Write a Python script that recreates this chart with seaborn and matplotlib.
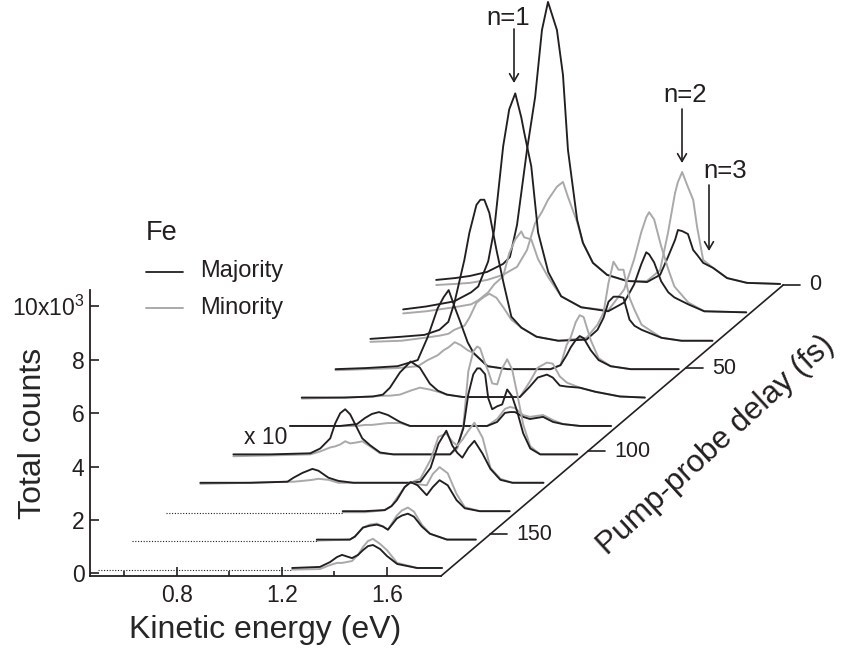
import matplotlib
matplotlib.use("Agg")
import matplotlib.pyplot as plt
from matplotlib.lines import Line2D
import numpy as np
import seaborn as sns

delays = [0, 17, 34, 51, 68, 85, 102, 119, 136, 153, 170]

energy_0 = [.49, .562, .619, .684, .745, .771, .798, .836, .867, .893, .916, .95, .973, .992, 1.027, 1.049, 1.087, 1.141, 1.217, 1.293, 1.343, 1.373, 1.40, 1.411, 1.427, 1.449, 1.469, 1.484, 1.507, 1.545, 1.598, 1.674, 1.80]
majority_0 = [.15, .22, .30, .45, .75, 1.01, 2.21, 5.02, 7.0, 9.51, 10.56, 9.51, 7.83, 5.02, 2.40, 1.54, .79, .34, .11, .07, .34, 1.01, 1.65, 2.02, 1.98, 1.87, 1.27, 1.09, .79, .60, .22, .04, 0]
minority_0 = [-.04, 0, .04, .15, .34, .49, .64, 1.27, 2.28, 2.70, 3.15, 3.64, 3.82, 3.26, 2.32, 1.54, .79, .34, .11, .11, .52, 1.91, 3.41, 3.82, 4.19, 3.63, 3.15, 2.13, .90, .60, .22, .04, 0]

energy_17 = [.493, .581, .687, .752, .779, .817, .84, .874, .897, .92, .943, .954, .981, 1.007, 1.046, 1.095, 1.171, 1.274, 1.335, 1.373, 1.40, 1.419, 1.43, 1.449, 1.476, 1.503, 1.526, 1.579, 1.64, 1.80]
majority_17 = [.11, .22, .41, .75, .97, 1.91, 3.11, 6.22, 7.60, 8.20, 7.30, 6.74, 5.47, 2.99, 1.50, .60, .19, .04, .37, 1.05, 1.80, 2.25, 2.17, 1.87, 1.16, .75, .56, .30, .04, 0]
minority_17 = [-.04, .04, .19, .30, .45, .75, 1.05, 1.35, 2.21, 2.73, 3.03, 2.81, 2.73, 1.99, 1.31, .60, .19, .07, .86, 1.99, 3.0, 3.56, 3.75, 3.48, 2.47, 1.61, .97, .37, .04, 0]

energy_34 = [.497, .615, .703, .76, .794, .817, .855, .874, .901, .916, .931, .95, .977, 1.004, 1.034, 1.072, 1.13, 1.213, 1.32, 1.362, 1.385, 1.404, 1.423, 1.442, 1.461, 1.484, 1.503, 1.53, 1.606, 1.682, 1.80]
majority_34 = [.07, .15, .22, .41, .71, 1.42, 3.03, 4.04, 5.09, 5.28, 5.28, 4.79, 3.41, 2.17, .90, .49, .15, 0, .04, .41, .86, 1.46, 1.65, 1.65, 1.61, .79, .56, .41, .11, 0, 0]
minority_34 = [-.04, 0, .11, .19, .26, .41, .56, .86, 1.42, 1.54, 1.65, 1.76, 1.61, 1.24, .79, .49, .15, 0, .11, .60, 1.05, 2.17, 2.96, 2.66, 2.66, 1.61, 1.16, .60, .11, 0, 0]

energy_51 = [.493, .608, .729, .806, .844, .882, .905, .924, .947, .97, .996, 1.019, 1.072, 1.149, 1.312, 1.35, 1.373, 1.389, 1.408, 1.423, 1.438, 1.465, 1.495, 1.541, 1.617, 1.80]
majority_51 = [0, .04, .11, .34, 1.20, 2.28, 2.70, 2.96, 2.32, 1.72, 1.01, .60, .11, 0, 0, .15, .52, .82, 1.09, 1.24, 1.16, .71, .34, .11, 0, 0]
minority_51 = [-.04, 0, .04, .11, .34, .52, .71, .82, 1.01, .90, .71, .60, .11, 0, 0, .15, .90, 1.20, 1.76, 2.02, 1.95, 1.09, .41, .11, 0, 0]

energy_68 = [.493, .657, .764, .802, .829, .867, .908, .943, .981, 1.011, 1.046, 1.107, 1.324, 1.362, 1.392, 1.427, 1.449, 1.476, 1.503, 1.552, 1.61, 1.705, 1.80]
majority_68 = [0, 0, .04, .11, .37, .94, 1.35, 1.12, .52, .26, .11, .02, .02, .41, .75, .86, .75, .45, .41, .37, .22, .04, 0]
minority_68 = [-.04, 0, .04, .07, .07, .11, .26, .37, .30, .22, .11, .02, .02, .60, 1.12, 1.31, 1.27, .79, .56, .37, .22, .04, 0]

energy_85 = [.577, .768, .832, .863, .889, .916, .95, .996, 1.034, 1.328, 1.366, 1.396, 1.415, 1.434, 1.465, 1.491, 1.541, 1.579, 1.617, 1.682, 1.80]
majority_85 = [0, 0, .07, .30, .45, .52, .41, .15, 0, 0, .15, .49, .52, .52, .34, .26, .34, .15, .07, 0, 0]
minority_85 = [0, 0, 0, .04, .04, .07, .11, .11, 0, 0, .26, .64, .71, .67, .41, .34, .41, .22, .07, 0, 0]

energy_102 = [.49, .63, .783, .821, .859, .878, .897, .916, .935, .962, .981, 1.011, 1.049, 1.099, 1.316, 1.343, 1.366, 1.385, 1.404, 1.419, 1.43, 1.449, 1.461, 1.476, 1.495, 1.514, 1.533, 1.552, 1.571, 1.594, 1.621, 1.659, 1.80]
majority_102 = [0, 0, .04, .22, .60, 1.16, 1.54, 1.69, 1.50, .97, .60, .34, .07, 0, 0, .30, .97, 2.25, 3.0, 3.22, 3.22, 3.0, 2.10, 1.69, 1.80, 1.87, 2.43, 2.17, 1.61, .79, .22, 0, 0]
minority_102 = [-.07, -.04, 0, .11, .26, .30, .37, .49, .41, .45, .49, .30, .04, 0, 0, .22, 1.05, 3.11, 3.86, 4.04, 3.97, 3.41, 3.11, 2.66, 2.62, 3.22, 3.56, 3.18, 2.28, 1.12, .30, 0, 0]

energy_119 = [.493, .684, .825, .848, .882, .92, .943, .981, 1.019, 1.076, 1.293, 1.331, 1.37, 1.40, 1.43, 1.453, 1.472, 1.491, 1.514, 1.537, 1.568, 1.598, 1.636, 1.682, 1.80]
majority_119 = [0, 0, .04, .19, .37, .52, .45, .19, .07, 0, 0, .04, .56, 1.46, 1.95, 1.39, 1.12, .94, 1.31, 1.57, 1.09, .52, .11, 0, 0]
minority_119 = [-.04, 0, .04, .04, .07, .11, .15, .11, 0, 0, 0, .15, .86, 1.72, 1.84, 1.54, 1.39, 1.61, 1.95, 2.25, 1.69, .56, .15, 0, 0]

energy_136 = [1.164, 1.248, 1.324, 1.35, 1.37, 1.40, 1.423, 1.449, 1.484, 1.507, 1.533, 1.564, 1.598, 1.629, 1.686, 1.80]
majority_136 = [0, 0, .04, .19, .41, .90, 1.09, .97, .60, .90, 1.16, .97, .41, .11, 0, 0]
minority_136 = [-.04, -.04, .04, .19, .49, .90, 1.09, 1.01, .97, 1.39, 1.65, 1.42, .64, .15, 0, 0]

energy_153 = [1.194, 1.32, 1.339, 1.37, 1.396, 1.423, 1.446, 1.465, 1.499, 1.518, 1.541, 1.564, 1.594, 1.625, 1.69, 1.80]
majority_153 = [0, 0, .11, .45, .52, .56, .49, .37, .79, .90, .97, .86, .49, .22, 0, 0]
minority_153 = [-.04, 0, .11, .45, .56, .60, .49, .37, .90, 1.09, 1.20, 1.05, .56, .22, 0, 0]

energy_170 = [1.229, 1.335, 1.373, 1.40, 1.419, 1.457, 1.48, 1.499, 1.518, 1.537, 1.564, 1.59, 1.629, 1.705, 1.80]
majority_170 = [0, .04, .22, .41, .49, .37, .49, .67, .82, .86, .71, .45, .15, 0, 0]
minority_170 = [-.06, -.04, .11, .19, .19, .26, .49, .79, 1.01, 1.09, .90, .67, .19, 0, 0]

energies = [energy_0, energy_17, energy_34, energy_51, energy_68, energy_85, energy_102, energy_119, energy_136, energy_153, energy_170]
majorities = [majority_0, majority_17, majority_34, majority_51, majority_68, majority_85, majority_102, majority_119, majority_136, majority_153, majority_170]
minorities = [minority_0, minority_17, minority_34, minority_51, minority_68, minority_85, minority_102, minority_119, minority_136, minority_153, minority_170]

# the three lowest scans only have a dotted baseline at low energy
dotted_delays = [136, 153, 170]
dotted_energy = [.49, 1.2]
dotted_counts = [-.07, -.07]

depth_ticks = [0, 50, 100, 150]
x_ticks = [0.8, 1.2, 1.6]
x_minor_ticks = [0.6, 1.0, 1.4]
y_ticks = [0, 2, 4, 6, 8, 10]
y_labels = ['0', '2', '4', '6', '8', '10x10$^3$']

BLACK = '#231f20'
GRAY = '#a9a9a9'
W, H = 841, 652

sns.set_style('ticks')
plt.rcParams['font.family'] = ['Liberation Sans', 'DejaVu Sans']
plt.rcParams['mathtext.default'] = 'regular'
plt.rcParams['text.color'] = BLACK


def fx(px):
    return px / W


def fy(py):
    return 1 - py / H


def shift_x(delay):
    return 0.01 + (170 - delay) * 0.007574


def shift_y(delay):
    return 0.2 + (170 - delay) * 0.06257


def depth_axis(delay):
    # goes from the axes corner (1.806, -0.1) up to (3.11, 10.8) at zero delay
    t = delay / 175
    return 3.11 + t * (1.806 - 3.11), 10.8 + t * (-0.1 - 10.8)


fig = plt.figure(figsize=(W / 100, H / 100), dpi=100)
ax = fig.add_axes([fx(90), fy(576), 351 / W, 286 / H])

for delay, energy, maj, mino in zip(delays, energies, majorities, minorities):
    x = np.array(energy) + shift_x(delay)
    sns.lineplot(x=x, y=np.array(mino) + shift_y(delay), color=GRAY, linewidth=1.4,
                 estimator=None, sort=False, clip_on=False, ax=ax)
    sns.lineplot(x=x, y=np.array(maj) + shift_y(delay), color=BLACK, linewidth=1.35,
                 estimator=None, sort=False, clip_on=False, ax=ax)

for delay, start in zip(dotted_delays, [energy_136[0], energy_153[0], energy_170[0]]):
    x = np.array([dotted_energy[0], start]) + shift_x(delay)
    ax.plot(x, np.array(dotted_counts) + shift_y(delay), color=BLACK, linewidth=0.8,
            linestyle=(0, (1, 1.5)), clip_on=False)

# depth axis with its ticks
x0, y0 = depth_axis(0)
x1, y1 = depth_axis(175)
ax.plot([x0, x1], [y0, y1], color=BLACK, linewidth=1.2, clip_on=False)
for d in depth_ticks:
    dx, dy = depth_axis(d)
    ax.plot([dx, dx + 0.065], [dy, dy], color=BLACK, linewidth=1.2, clip_on=False)
    ax.text(dx + 0.10, dy, str(d), fontsize=15.5, ha='left', va='center')

ax.set_xlim(0.469, 1.806)
ax.set_ylim(-0.1, 10.61)
ax.set_xticks(x_ticks)
ax.set_xticklabels([str(t) for t in x_ticks])
ax.set_xticks(x_minor_ticks, minor=True)
ax.set_yticks(y_ticks)
ax.set_yticklabels(y_labels)
ax.tick_params(axis='both', which='major', direction='in', length=6.5, width=1.2,
               labelsize=16.5, color=BLACK, labelcolor=BLACK, pad=6)
ax.tick_params(axis='y', which='major', pad=4)
ax.tick_params(axis='x', which='minor', direction='in', length=3.5, width=1.2, color=BLACK)
for side in ['top', 'right']:
    ax.spines[side].set_visible(False)
for side in ['left', 'bottom']:
    ax.spines[side].set_linewidth(1.3)
    ax.spines[side].set_color(BLACK)

ax.set_xlabel('Kinetic energy (eV)', fontsize=23)
ax.xaxis.set_label_coords(0.5, -0.137)
ax.set_ylabel('Total counts', fontsize=23)
ax.yaxis.set_label_coords(-0.12, 0.497)

fig.text(fx(716), fy(445), 'Pump-probe delay (fs)', fontsize=22.5, rotation=42.5,
         ha='center', va='center', rotation_mode='anchor')
fig.text(fx(266), fy(437), 'x 10', fontsize=16.5, ha='center', va='center')

# legend
fig.text(fx(146), fy(233), 'Fe', fontsize=19.5, ha='left', va='center')
fig.add_artist(Line2D([fx(146), fx(183)], [fy(272), fy(272)], color=BLACK, linewidth=1.3))
fig.add_artist(Line2D([fx(146), fx(183)], [fy(308), fy(308)], color=GRAY, linewidth=1.4))
fig.text(fx(200), fy(271), 'Majority', fontsize=17, ha='left', va='center')
fig.text(fx(200), fy(308), 'Minority', fontsize=17, ha='left', va='center')

# peak markers
for label, lx, ly, x_arrow, y_start, y_tip in [('n=1', 508, 18, 514, 29, 83),
                                               ('n=2', 685, 95, 682, 109, 163),
                                               ('n=3', 725, 171, 709, 185, 251)]:
    fig.text(fx(lx), fy(ly), label, fontsize=18.5, ha='center', va='center')
    ax.annotate('', xy=(fx(x_arrow), fy(y_tip)), xytext=(fx(x_arrow), fy(y_start)),
                xycoords='figure fraction', textcoords='figure fraction',
                arrowprops=dict(arrowstyle='->,head_length=0.55,head_width=0.32', color=BLACK,
                                linewidth=1.2, shrinkA=0, shrinkB=0))

fig.savefig('out.png', dpi=100, facecolor='white')
